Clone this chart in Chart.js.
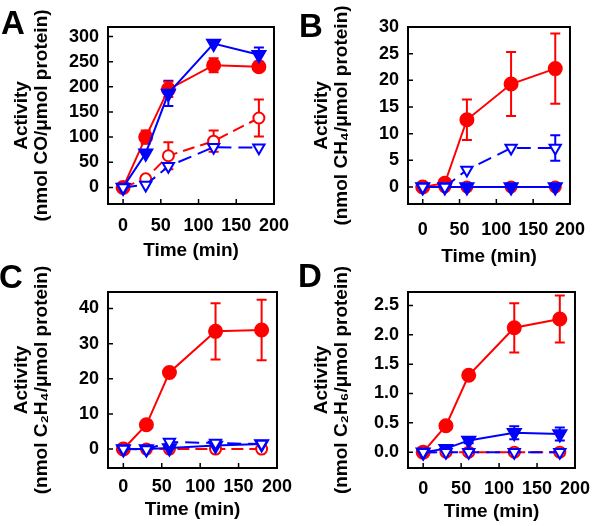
<!DOCTYPE html>
<html>
<head>
<meta charset="utf-8">
<script src="https://cdn.jsdelivr.net/npm/chart.js@4"></script>
<style>
body{margin:0;background:#fff;}
#wrap{position:relative;width:600px;height:526px;overflow:hidden;}
canvas{position:absolute;}
.letter{position:absolute;font:bold 33px "Liberation Sans",Arial,sans-serif;line-height:33px;color:#000;}
</style>
</head>
<body>
<div id="wrap">
  <canvas id="chartA" width="300" height="280" style="left:0;top:0"></canvas>
  <canvas id="chartB" width="300" height="280" style="left:300px;top:0"></canvas>
  <canvas id="chartC" width="300" height="280" style="left:0;top:263px"></canvas>
  <canvas id="chartD" width="300" height="280" style="left:300px;top:263px"></canvas>
  <div class="letter" style="left:1px;top:6px">A</div>
  <div class="letter" style="left:299px;top:9px">B</div>
  <div class="letter" style="left:-1px;top:260px">C</div>
  <div class="letter" style="left:298px;top:259px">D</div>
</div>
<script>
// =======================
// DATA
// =======================
const times = [0, 30, 60, 120, 180];
const xTicks = [0, 50, 100, 150, 200];

// A - CO
const aRedFilled  = [0, 100, 195, 243, 240];
const aRedFilledErr = [0, 13, 15, 14, 6];
const aBlueFilled = [0, 68, 187, 286, 264];
const aBlueFilledErr = [0, 0, 25, 0, 14];
const aRedOpen    = [0, 17, 63, 92, 138];
const aRedOpenErr = [0, 0, 27, 21, 37];
const aBlueOpen   = [0, 5, 42, 80, 79];
const aTicks = [0, 50, 100, 150, 200, 250, 300];

// B - CH4
const bRedFilled  = [0, 0.7, 12.6, 19.3, 22.2];
const bRedFilledErr = [0, 0, 3.8, 6, 6.6];
const bBlueOpen   = [0, 0, 3.2, 7.3, 7.3];
const bBlueOpenErr = [0, 0, 0, 0, 2.4];
const bRedOpen    = [0, 0, 0, 0, 0];
const bBlueFilled = [0, 0, 0, 0, 0];
const bTicks = [0, 5, 10, 15, 20, 25, 30];

// C - C2H4
const cRedFilled  = [0, 6.9, 21.8, 33.5, 33.9];
const cRedFilledErr = [0, 0, 0, 8, 8.6];
const cBlueOpen   = [0, -0.1, 2.0, 1.7, 1.4];
const cBlueFilled = [0, 0, 0.3, 1.0, 1.4];
const cRedOpen    = [0, 0, 0, 0, 0];
const cTicks = [0, 10, 20, 30, 40];

// D - C2H6
const dRedFilled  = [0, 0.45, 1.31, 2.12, 2.27];
const dRedFilledErr = [0, 0, 0, 0.42, 0.4];
const dBlueFilled = [0, 0.06, 0.2, 0.33, 0.31];
const dBlueFilledErr = [0, 0, 0.05, 0.11, 0.11];
const dRedOpen    = [0, 0, 0, 0, 0];
const dBlueOpen   = [0, 0, 0, 0, 0];
const dTicks = [0, 0.5, 1, 1.5, 2, 2.5];
const dTickLabels = ["0.0", "0.5", "1.0", "1.5", "2.0", "2.5"];

// =======================
// STYLE
// =======================
const RED = "rgb(255,0,0)";
const BLUE = "rgb(0,0,255)";
const FONT = "'Liberation Sans', Arial, sans-serif";
const H = 280; // canvas height (panels overlap a bit, canvases are transparent)

const styles = {
  redFilled:  {color: RED,  fill: RED,    shape: "circle",   r: 6.5, dash: []},
  redOpen:    {color: RED,  fill: "#fff", shape: "circle",   r: 5.5, dash: [12, 6]},
  blueFilled: {color: BLUE, fill: BLUE,   shape: "triangle", r: 7.5, dash: []},
  blueOpen:   {color: BLUE, fill: "#fff", shape: "triangle", r: 6.5, dash: [14, 7]}
};

function series(kind, values, errors){
  const s = styles[kind];
  return {
    data: times.map((t,i)=>({x:t, y:values[i]})),
    errors: errors,
    borderColor: s.color,
    backgroundColor: s.fill,
    pointBackgroundColor: s.fill,
    pointBorderColor: s.color,
    pointBorderWidth: 2,
    pointRadius: s.r,
    pointStyle: s.shape,
    pointRotation: s.shape === "triangle" ? 180 : 0,
    borderWidth: 2,
    borderDash: s.dash,
    tension: 0,
    clip: false
  };
}

// =======================
// PLUGINS
// =======================
const frameAndErrors = {
  id: "frameAndErrors",
  beforeDatasetsDraw(chart){
    const {ctx, chartArea: a, scales: {x, y}} = chart;
    ctx.save();
    ctx.strokeStyle = "#000";
    ctx.lineWidth = 2;
    ctx.strokeRect(a.left, a.top, a.right - a.left, a.bottom - a.top);
    ctx.lineWidth = 1.5;
    ctx.beginPath();
    y.ticks.forEach(t=>{
      const py = y.getPixelForValue(t.value);
      ctx.moveTo(a.left, py); ctx.lineTo(a.left + 5, py);
    });
    x.ticks.forEach(t=>{
      const px = x.getPixelForValue(t.value);
      if(px > a.right - 2) return;
      ctx.moveTo(px, a.bottom); ctx.lineTo(px, a.bottom - 5);
    });
    ctx.stroke();

    chart.data.datasets.forEach(ds=>{
      if(!ds.errors) return;
      ctx.strokeStyle = ds.borderColor;
      ctx.lineWidth = 2;
      ctx.beginPath();
      ds.data.forEach((p,i)=>{
        const e = ds.errors[i];
        if(!e) return;
        const px = x.getPixelForValue(p.x);
        const top = y.getPixelForValue(p.y + e);
        const bot = y.getPixelForValue(p.y - e);
        ctx.moveTo(px, top); ctx.lineTo(px, bot);
        ctx.moveTo(px - 5, top); ctx.lineTo(px + 5, top);
        ctx.moveTo(px - 5, bot); ctx.lineTo(px + 5, bot);
      });
      ctx.stroke();
    });
    ctx.restore();
  }
};

// =======================
// CHARTS
// =======================
function makeChart(id, p){
  return new Chart(document.getElementById(id), {
    type: "line",
    data: {datasets: p.datasets},
    options: {
      responsive: false,
      animation: false,
      devicePixelRatio: 1,
      layout: {padding: {left: 0, right: 17, top: p.top, bottom: 0}},
      plugins: {legend: {display: false}, tooltip: {enabled: false}},
      scales: {
        x: {
          type: "linear",
          min: -20, max: 200,
          grid: {display: false, drawTicks: false},
          border: {display: false},
          afterBuildTicks: s => { s.ticks = xTicks.map(v=>({value:v})); },
          afterFit: s => { s.height = H - p.bottom; },
          ticks: {autoSkip: false, maxRotation: 0, padding: p.xPad, color: "#000",
                  font: {family: FONT, weight: "bold", size: 18}},
          title: {display: true, text: "Time (min)", color: "#000",
                  padding: {top: 0, bottom: H - p.xTitle - 11.4},
                  font: {family: FONT, weight: "bold", size: 19, lineHeight: 1.2}}
        },
        y: {
          type: "linear",
          min: p.yMin, max: p.yMax,
          grid: {display: false, drawTicks: false},
          border: {display: false},
          afterBuildTicks: s => { s.ticks = p.yTicks.map(v=>({value:v})); },
          afterFit: s => { s.width = 108; },
          ticks: {autoSkip: false, padding: 9, color: "#000",
                  callback: (v,i) => p.yLabels ? p.yLabels[i] : v,
                  font: {family: FONT, weight: "bold", size: 18}},
          title: {display: true, text: p.yTitle, color: "#000",
                  padding: {top: 12, bottom: 0},
                  font: {family: FONT, weight: "bold", size: 19, lineHeight: 1.05}}
        }
      }
    },
    plugins: [frameAndErrors]
  });
}

makeChart("chartA", {
  top: 27, bottom: 204, xPad: 11, xTitle: 251,
  yMin: -33, yMax: 319, yTicks: aTicks,
  yTitle: ["Activity", "(nmol CO/\u03bcmol protein)"],
  datasets: [
    series("blueOpen", aBlueOpen),
    series("blueFilled", aBlueFilled, aBlueFilledErr),
    series("redOpen", aRedOpen, aRedOpenErr),
    series("redFilled", aRedFilled, aRedFilledErr)
  ]
});

makeChart("chartB", {
  top: 27, bottom: 204, xPad: 15, xTitle: 257,
  yMin: -3.2, yMax: 30, yTicks: bTicks,
  yTitle: ["Activity", "(nmol CH\u2084/\u03bcmol protein)"],
  datasets: [
    series("blueOpen", bBlueOpen, bBlueOpenErr),
    series("blueFilled", bBlueFilled),
    series("redOpen", bRedOpen),
    series("redFilled", bRedFilled, bRedFilledErr)
  ]
});

makeChart("chartC", {
  top: 29, bottom: 205, xPad: 8, xTitle: 247,
  yMin: -5.4, yMax: 44.7, yTicks: cTicks,
  yTitle: ["Activity", "(nmol C\u2082H\u2084/\u03bcmol protein)"],
  datasets: [
    series("blueOpen", cBlueOpen),
    series("blueFilled", cBlueFilled),
    series("redOpen", cRedOpen),
    series("redFilled", cRedFilled, cRedFilledErr)
  ]
});

makeChart("chartD", {
  top: 29, bottom: 205, xPad: 10, xTitle: 249,
  yMin: -0.27, yMax: 2.73, yTicks: dTicks, yLabels: dTickLabels,
  yTitle: ["Activity", "(nmol C\u2082H\u2086/\u03bcmol protein)"],
  datasets: [
    series("blueOpen", dBlueOpen),
    series("blueFilled", dBlueFilled, dBlueFilledErr),
    series("redOpen", dRedOpen),
    series("redFilled", dRedFilled, dRedFilledErr)
  ]
});
</script>
</body>
</html>
